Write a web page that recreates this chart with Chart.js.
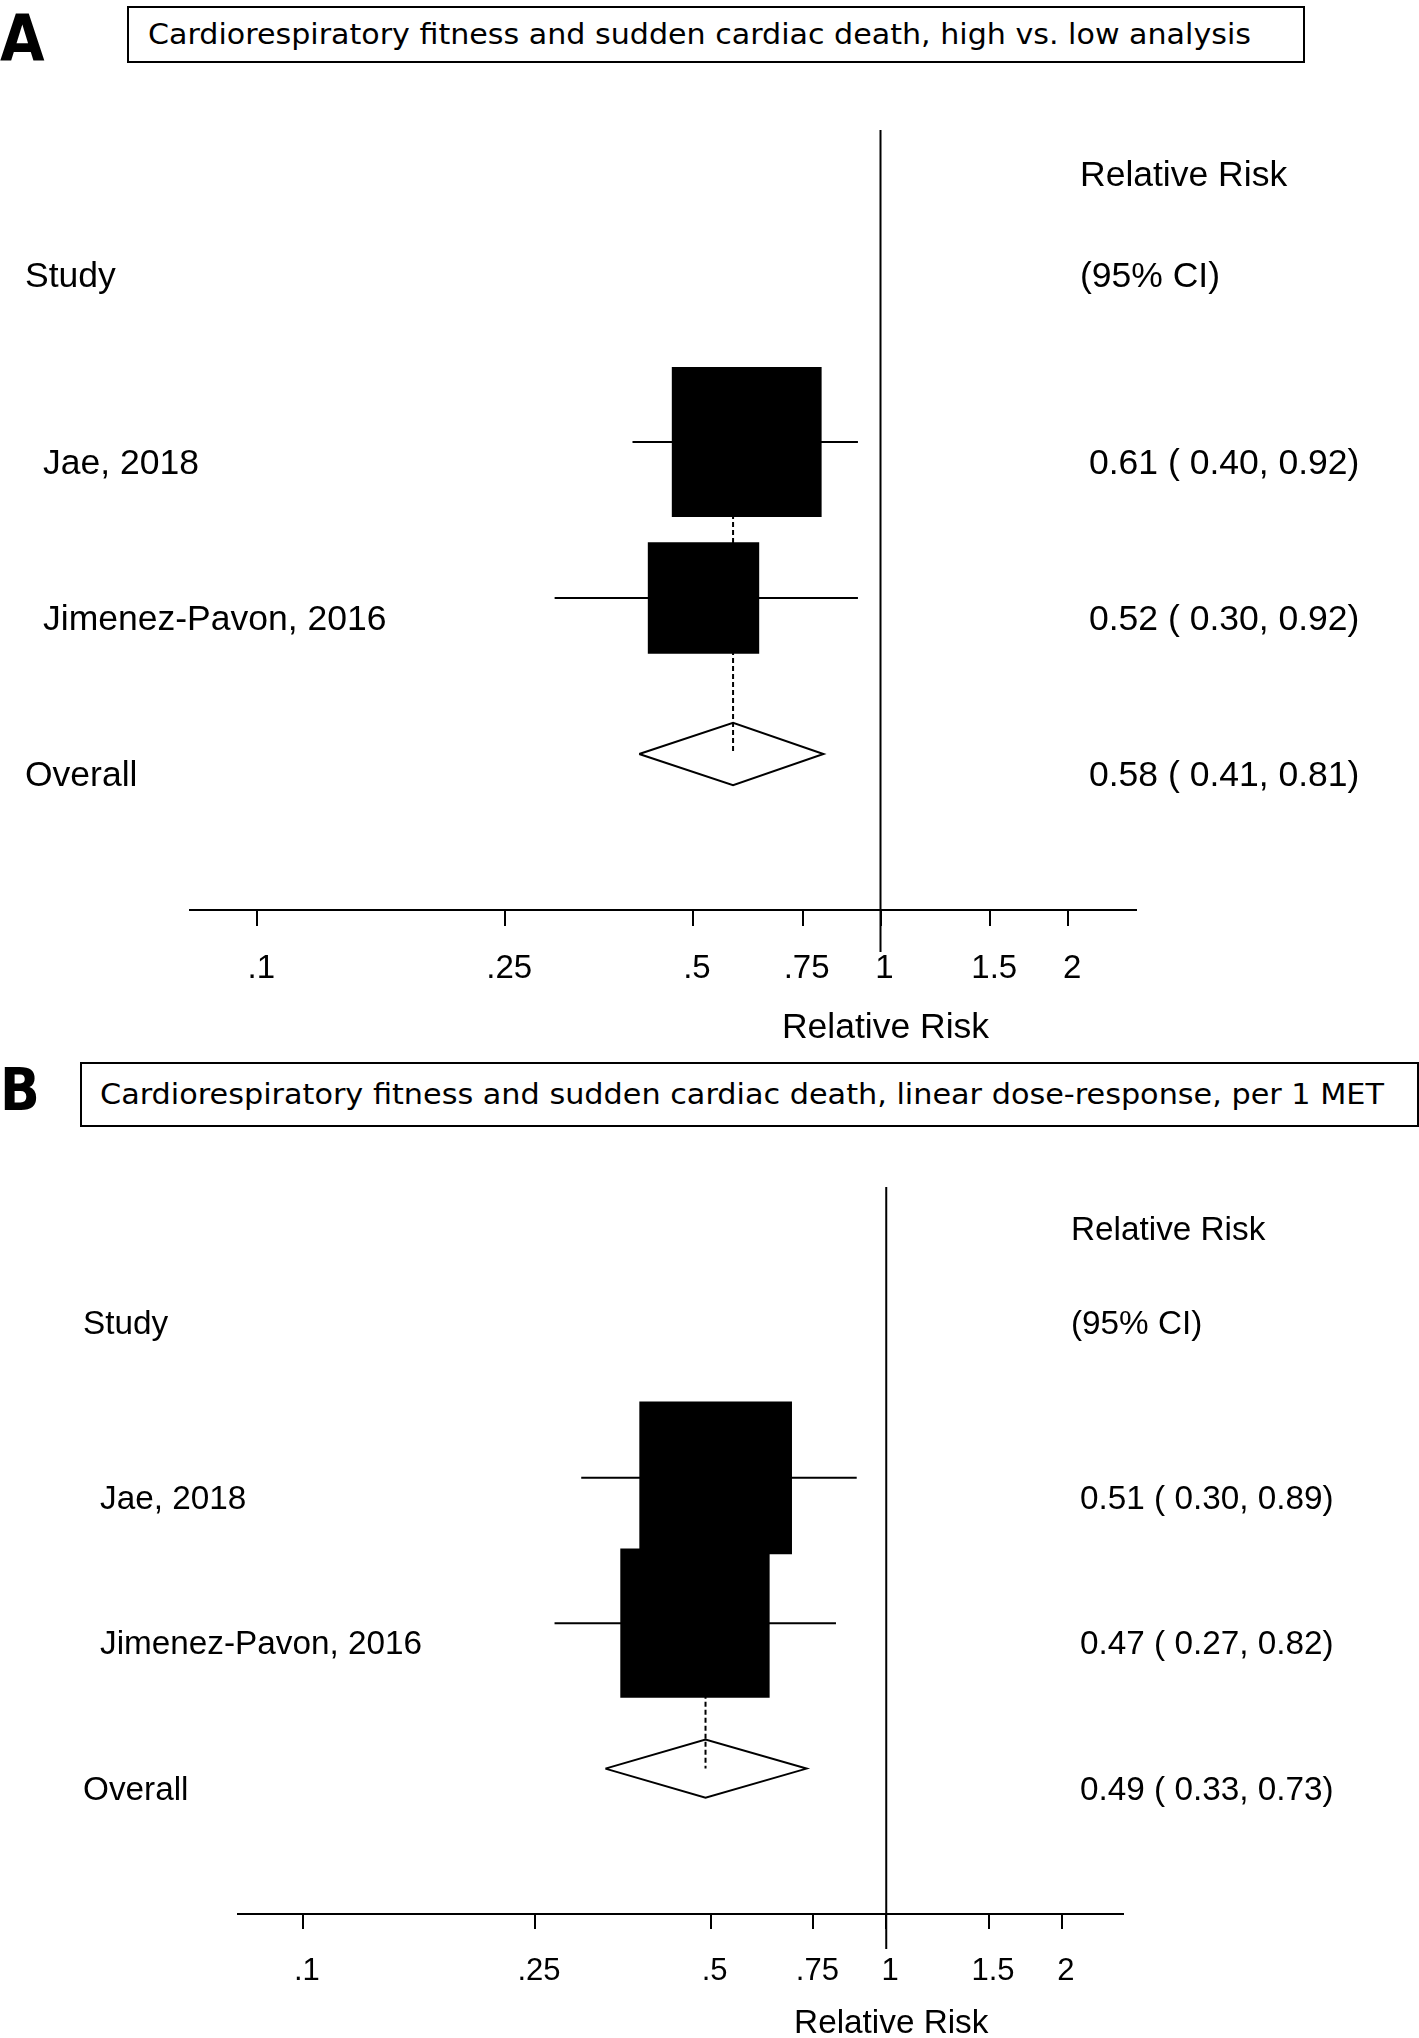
<!DOCTYPE html>
<html>
<head>
<meta charset="utf-8">
<script src="https://cdn.jsdelivr.net/npm/chart.js@4.4.1/dist/chart.umd.min.js"></script>
<style>
  html, body { margin: 0; padding: 0; background: #fff; }
  body { width: 1419px; height: 2038px; position: relative; overflow: hidden; }
  .letter { position: absolute; left: 0; font-family: 'DejaVu Sans', sans-serif; font-weight: bold; line-height: 1; transform-origin: 0 0; color: #000; }
  .title-box { position: absolute; border: 2px solid #000; box-sizing: border-box; display: flex; align-items: center; }
  .title-box span { font-family: 'DejaVu Sans', sans-serif; font-size: 28px; white-space: nowrap; display: inline-block; transform-origin: 0 50%; color: #000; }
  canvas { position: absolute; left: 0; }
</style>
</head>
<body>
<div class="letter" id="letterA" style="top:7px;font-size:64px;transform:scaleX(0.9)">A</div>
<div class="title-box" id="titleA" style="left:127px;top:6px;width:1178px;height:57px;padding-left:19px">
  <span>Cardiorespiratory fitness and sudden cardiac death, high vs. low analysis</span>
</div>
<canvas id="chartA" width="1419" height="1050" style="top:0"></canvas>

<div class="letter" id="letterB" style="top:1061px;font-size:58px;transform:scaleX(0.9)">B</div>
<div class="title-box" id="titleB" style="left:80px;top:1062px;width:1339px;height:65px;padding-left:18px">
  <span>Cardiorespiratory fitness and sudden cardiac death, linear dose-response, per 1 MET</span>
</div>
<canvas id="chartB" width="1419" height="988" style="top:1050px"></canvas>

<script>
// ── Data ──────────────────────────────────────────────────
const TICK_VALUES = [0.1, 0.25, 0.5, 0.75, 1, 1.5, 2];
const TICK_LABELS = ['.1', '.25', '.5', '.75', '1', '1.5', '2'];

// A: high vs. low
const studiesA = ['Jae, 2018', 'Jimenez-Pavon, 2016'];
const rrA = [0.61, 0.52];
const lowerA = [0.40, 0.30];
const upperA = [0.92, 0.92];
const weightsA = [64.4, 35.6];
const overallA = [0.58, 0.41, 0.81]; // rr, lower, upper

// B: linear dose-response, per 1 MET
const studiesB = ['Jae, 2018', 'Jimenez-Pavon, 2016'];
const rrB = [0.51, 0.47];
const lowerB = [0.30, 0.27];
const upperB = [0.89, 0.82];
const weightsB = [51.1, 48.9];
const overallB = [0.49, 0.33, 0.73];

// ── Layout ────────────────────────────────────────────────
const FONT = "'Liberation Sans', Arial, sans-serif";
const HEAD_ROWS = [-0.85, -0.2];   // "Relative Risk", "Study / (95% CI)"
const DIAMOND_H = 0.2;

const layoutA = {
  pad: { top: 130, left: 190, right: 283, bottom: 0 },
  axisH: 140, xMin: 0.078, xMax: 2.57,
  font: 35.5, tickFont: 33, tickLen: 16, tickPad: 23,
  labelX: 25, indent: 18, ciX: 1080, ciIndent: 9,
  textDy: 22.5, titleDx: 5, titleDy: 118,
  boxScale: 13.2, nullBelow: 0.27
};

const layoutB = {
  pad: { top: 137, left: 238, right: 296, bottom: 0 },
  axisH: 124, xMin: 0.0774, xMax: 2.546,
  font: 33.3, tickFont: 31, tickLen: 15, tickPad: 24,
  labelX: 83, indent: 17, ciX: 1071, ciIndent: 9,
  textDy: 22, titleDx: 5, titleDy: 110,
  boxScale: 15.1, nullBelow: 0.24
};

function ciText(rr, lo, hi) {
  return `${rr.toFixed(2)} ( ${lo.toFixed(2)}, ${hi.toFixed(2)})`;
}

// ── Forest plot ───────────────────────────────────────────
function forest(canvasId, L, studies, rr, lower, upper, weights, overall) {
  const overallRow = studies.length + 1;
  const line = { type: 'line', borderColor: '#000', borderWidth: 2, pointRadius: 0, fill: false, tension: 0 };

  const datasets = [];
  // null line at RR = 1
  datasets.push({ ...line, data: [{ x: 1, y: -1 }, { x: 1, y: overallRow + 1 + L.nullBelow }], clip: false, order: 0 });
  // study boxes, size from weight
  datasets.push({
    type: 'scatter',
    data: rr.map((v, i) => ({ x: v, y: i + 1 })),
    pointStyle: 'rect',
    pointRadius: weights.map(w => L.boxScale * Math.sqrt(w)),
    backgroundColor: '#000',
    borderWidth: 0,
    order: 1
  });
  // confidence intervals
  rr.forEach((v, i) => {
    datasets.push({ ...line, data: [{ x: lower[i], y: i + 1 }, { x: upper[i], y: i + 1 }], order: 2 });
  });
  // overall diamond
  datasets.push({
    ...line,
    data: [
      { x: overall[1], y: overallRow },
      { x: overall[0], y: overallRow - DIAMOND_H },
      { x: overall[2], y: overallRow },
      { x: overall[0], y: overallRow + DIAMOND_H },
      { x: overall[1], y: overallRow }
    ],
    order: 3
  });
  // dashed overall line
  datasets.push({ ...line, data: [{ x: overall[0], y: 1 }, { x: overall[0], y: overallRow }], borderDash: [5, 3], order: 4 });

  const textPlugin = {
    id: 'forestText',
    afterDraw(chart) {
      const { ctx, scales: { x, y } } = chart;
      const rowY = r => y.getPixelForValue(r) + L.textDy;
      ctx.save();
      ctx.fillStyle = '#000';
      ctx.textBaseline = 'middle';
      ctx.textAlign = 'left';
      ctx.font = `${L.font}px ${FONT}`;
      ctx.fillText('Relative Risk', L.ciX, rowY(HEAD_ROWS[0]));
      ctx.fillText('Study', L.labelX, rowY(HEAD_ROWS[1]));
      ctx.fillText('(95% CI)', L.ciX, rowY(HEAD_ROWS[1]));
      studies.forEach((s, i) => {
        ctx.fillText(s, L.labelX + L.indent, rowY(i + 1));
        ctx.fillText(ciText(rr[i], lower[i], upper[i]), L.ciX + L.ciIndent, rowY(i + 1));
      });
      ctx.fillText('Overall', L.labelX, rowY(overallRow));
      ctx.fillText(ciText(overall[0], overall[1], overall[2]), L.ciX + L.ciIndent, rowY(overallRow));
      // axis title
      ctx.textAlign = 'center';
      ctx.fillText('Relative Risk', x.getPixelForValue(1) + L.titleDx, chart.chartArea.bottom + L.titleDy);
      ctx.restore();
    }
  };

  return new Chart(document.getElementById(canvasId), {
    type: 'scatter',
    data: { datasets },
    options: {
      responsive: false,
      animation: false,
      events: [],
      layout: { padding: L.pad },
      plugins: { legend: { display: false }, tooltip: { enabled: false } },
      scales: {
        x: {
          type: 'logarithmic',
          min: L.xMin,
          max: L.xMax,
          afterBuildTicks: s => { s.ticks = TICK_VALUES.map(v => ({ value: v })); },
          afterFit: s => { s.height = L.axisH; },
          ticks: {
            autoSkip: false, maxRotation: 0, minRotation: 0,
            color: '#000', padding: L.tickPad, labelOffset: 4,
            font: { family: FONT, size: L.tickFont },
            callback: v => TICK_LABELS[TICK_VALUES.indexOf(v)]
          },
          grid: { drawOnChartArea: false, drawTicks: true, tickLength: L.tickLen, tickWidth: 2, tickColor: '#000', color: '#000', lineWidth: 2 },
          border: { display: true, color: '#000', width: 2 }
        },
        y: { type: 'linear', display: false, reverse: true, min: -1, max: overallRow + 1 }
      }
    },
    plugins: [textPlugin]
  });
}

// ── Titles: fit to the reference box text width ───────────
function fitTitle(id, targetW) {
  const s = document.querySelector(`#${id} span`);
  const w = s.getBoundingClientRect().width;
  s.style.transform = `scaleX(${targetW / w})`;
}
fitTitle('titleA', 1103);
fitTitle('titleB', 1284);

forest('chartA', layoutA, studiesA, rrA, lowerA, upperA, weightsA, overallA);
forest('chartB', layoutB, studiesB, rrB, lowerB, upperB, weightsB, overallB);
</script>
</body>
</html>
